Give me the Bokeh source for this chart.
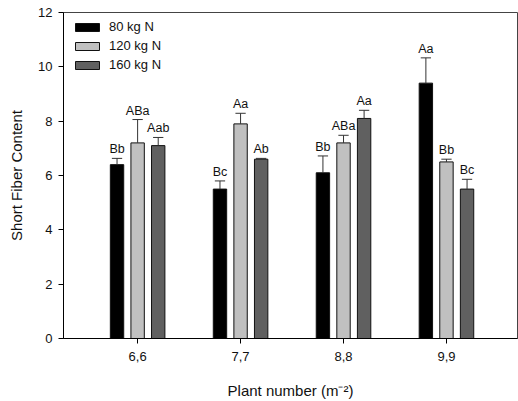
import numpy as np
from bokeh.plotting import figure
from bokeh.models import ColumnDataSource, FixedTicker, Legend, LegendItem
from bokeh.embed import file_html
from bokeh.resources import INLINE

categories = ["6,6", "7,7", "8,8", "9,9"]
series_names = ["80 kg N", "120 kg N", "160 kg N"]
values_80 = [6.4, 5.5, 6.1, 9.4]
values_120 = [7.2, 7.9, 7.2, 6.5]
values_160 = [7.1, 6.6, 8.1, 5.5]
err_80 = [0.23, 0.3, 0.62, 0.93]
err_120 = [0.86, 0.39, 0.28, 0.1]
err_160 = [0.3, 0.03, 0.3, 0.36]
letters_80 = ["Bb", "Bc", "Bb", "Aa"]
letters_120 = ["ABa", "Aa", "ABa", "Bb"]
letters_160 = ["Aab", "Ab", "Aa", "Bc"]
y_ticks = [0, 2, 4, 6, 8, 10, 12]

colors = ["#000000", "#c0c0c0", "#606060"]
FONT = "Liberation Sans"

p = figure(width=518, height=401, output_backend="svg", toolbar_location=None,
           x_range=(-0.72, 3.69), y_range=(0, 12),
           min_border_left=63, min_border_right=1, min_border_top=12, min_border_bottom=63)
p.background_fill_color = "white"
p.border_fill_color = "white"
p.outline_line_color = "#444444"
p.xgrid.visible = False
p.ygrid.visible = False

xs = np.arange(len(categories))
offsets = [-0.2, 0.0, 0.2]
width = 0.13
cap = 0.05

legend_items = []
for vals, errs, labs, off, col, name in zip(
        [values_80, values_120, values_160], [err_80, err_120, err_160],
        [letters_80, letters_120, letters_160], offsets, colors, series_names):
    x = xs + off
    v = np.array(vals)
    top = v + np.array(errs)
    src = ColumnDataSource(dict(x=x, v=v, top=top, lab=labs,
                                x0=x - cap, x1=x + cap))
    r = p.vbar(x="x", top="v", bottom=0, width=width, source=src,
               fill_color=col, line_color="#111111", line_width=1)
    p.segment(x0="x", y0="v", x1="x", y1="top", source=src, line_color="#333333", line_width=1)
    p.segment(x0="x0", y0="top", x1="x1", y1="top", source=src, line_color="#333333", line_width=1)
    p.text(x="x", y="top", text="lab", source=src, text_align="center",
           text_baseline="bottom", y_offset=-2, text_font_size="12.5px",
           text_font={"value": FONT}, text_color="#111111")
    legend_items.append(LegendItem(label=name, renderers=[r]))

legend = Legend(items=legend_items, location=(9, 266), padding=0, margin=0,
                spacing=4, glyph_width=30, glyph_height=10, label_height=12,
                label_standoff=7, label_text_font_size="13px", label_text_font=FONT,
                label_text_color="#111111",
                border_line_color=None, background_fill_alpha=0)
p.add_layout(legend)

p.xaxis.ticker = FixedTicker(ticks=list(xs))
p.xaxis.major_label_overrides = {int(i): c for i, c in zip(xs, categories)}
p.yaxis.ticker = FixedTicker(ticks=y_ticks)

for ax in [p.xaxis[0], p.yaxis[0]]:
    ax.axis_line_color = "black"
    ax.major_tick_line_color = "black"
    ax.major_tick_in = 0
    ax.major_tick_out = 5
    ax.minor_tick_line_color = None
    ax.major_label_text_font = FONT
    ax.major_label_text_font_size = "13px"
    ax.major_label_text_color = "#111111"
    ax.axis_label_text_font = FONT
    ax.axis_label_text_font_size = "15px"
    ax.axis_label_text_font_style = "normal"
    ax.axis_label_text_color = "#111111"

p.xaxis.axis_label = "Plant number (m⁻²)"
p.yaxis.axis_label = "Short Fiber Content"
p.xaxis.major_label_standoff = 8
p.xaxis.axis_label_standoff = 18
p.yaxis.major_label_standoff = 6
p.yaxis.axis_label_standoff = 10

open("out.html", "w").write(file_html(p, INLINE))
